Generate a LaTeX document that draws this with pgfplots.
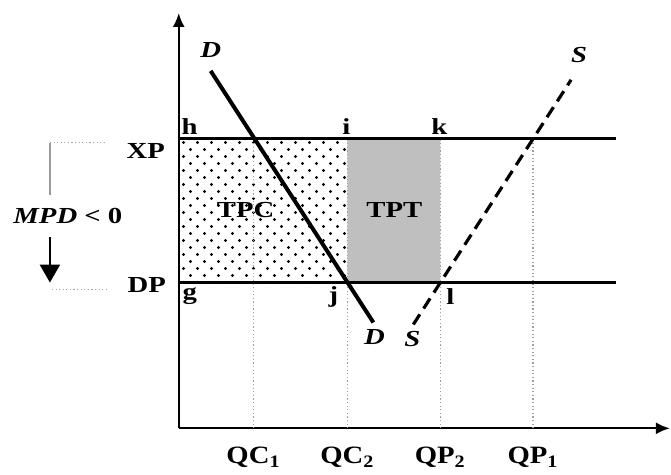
\documentclass[border=0pt]{standalone}
\usepackage{pgfplots}
\pgfplotsset{compat=1.18}
\usepackage{fontspec}
\setmainfont{Liberation Serif}
\usetikzlibrary{patterns,arrows.meta}

% staggered dot fill for the consumer-loss rectangle
\pgfdeclarepatternformonly{staggerdots}{\pgfpointorigin}{\pgfpoint{7.25pt}{7pt}}{\pgfpoint{7.25pt}{7pt}}{%
  \pgfpathcircle{\pgfpoint{1.8pt}{1.75pt}}{0.85pt}%
  \pgfpathcircle{\pgfpoint{5.425pt}{5.25pt}}{0.85pt}%
  \pgfusepath{fill}}

\newcommand{\lbl}{\fontsize{11.5}{13}\selectfont\bfseries}
\tikzset{lab/.style={font=\lbl, xscale=1.25}}

\begin{document}
\begin{tikzpicture}
\begin{axis}[
  x=0.5pt, y=0.5pt,
  xmin=0, xmax=492, ymin=0, ymax=416,
  axis x line=bottom, axis y line=left,
  axis line style={line width=1.1pt, -{Latex[length=7pt,width=6pt]}},
  xtick={75,169,262,355},
  xticklabels={QC\textsubscript{1}, QC\textsubscript{2}, QP\textsubscript{2}, QP\textsubscript{1}},
  ytick=\empty,
  major tick length=0pt,
  xticklabel style={font=\fontsize{12.5}{14}\selectfont\bfseries, xscale=1.15, yshift=-6pt},
  clip=false,
]
% invisible frame fixing the picture extent
\path (axis cs:-179,-39) rectangle (axis cs:492,429);

% TPC: dotted area
\addplot[draw=none, pattern=staggerdots, pattern color=black] coordinates {(0,146) (169,146) (169,290) (0,290) (0,146)};
% TPT: grey area
\addplot[draw=none, fill=black!25] coordinates {(169,146) (262,146) (262,290) (169,290) (169,146)};

% quantity guides
\pgfplotsset{guide/.style={gray!75, line width=0.65pt, dash pattern=on 0.6pt off 1.2pt}}
\addplot[guide] coordinates {(75,0) (75,290)};
\addplot[guide] coordinates {(169,0) (169,290)};
\addplot[guide] coordinates {(262,0) (262,290)};
\addplot[guide] coordinates {(355,0) (355,290)};

% price lines XP and DP
\addplot[black, line width=1.5pt] coordinates {(0,290) (438,290)};
\addplot[black, line width=1.5pt] coordinates {(0,146) (438,146)};

% demand D and supply S
\addplot[black, line width=2pt] coordinates {(32,358) (195,106)};
\addplot[black, line width=1.6pt, dash pattern=on 6pt off 3.5pt] coordinates {(235,104) (393,349)};

% MPD bracket on the left
\addplot[gray!70, line width=0.6pt, dash pattern=on 0.6pt off 1.2pt] coordinates {(-129,286) (-74,286)};
\addplot[gray!70, line width=0.6pt, dash pattern=on 0.6pt off 1.2pt] coordinates {(-127,139) (-72,139)};
\addplot[gray!80, line width=1pt] coordinates {(-129,286) (-129,234)};
\addplot[black, line width=1.2pt, -{Triangle[length=9pt,width=10pt]}] coordinates {(-129,192) (-129,146)};

% labels
\node[lab] at (axis cs:-33,278) {XP};
\node[lab] at (axis cs:-32,144) {DP};
\node[lab] at (axis cs:-111,213) {\textit{MPD} < 0};
\node[lab] at (axis cs:11,302) {h};
\node[lab] at (axis cs:168,302) {i};
\node[lab] at (axis cs:261,302) {k};
\node[lab] at (axis cs:11,132) {g};
\node[lab] at (axis cs:155,132) {j};
\node[lab] at (axis cs:272,132) {l};
\node[lab] at (axis cs:67,219) {TPC};
\node[lab] at (axis cs:216,219) {TPT};
\node[lab, font=\lbl\itshape] at (axis cs:32,379) {D};
\node[lab, font=\lbl\itshape] at (axis cs:196,91) {D};
\node[lab, font=\lbl\itshape] at (axis cs:234,89) {S};
\node[lab, font=\lbl\itshape] at (axis cs:401,374) {S};
\end{axis}
\end{tikzpicture}
\end{document}
